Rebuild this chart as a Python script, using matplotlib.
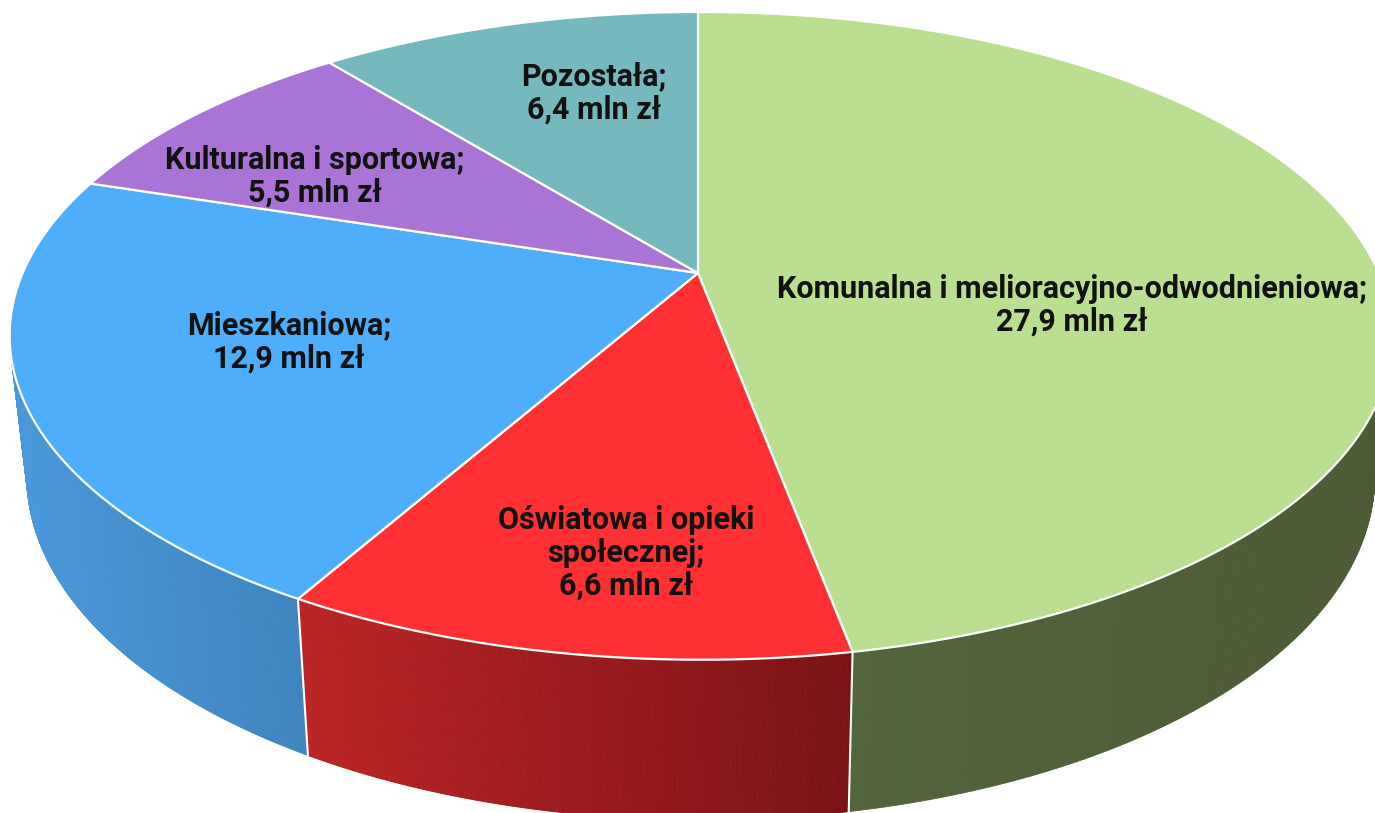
import matplotlib
matplotlib.use('Agg')
import matplotlib.pyplot as plt
from matplotlib.colors import to_rgb
import numpy as np

plt.rcParams['font.family'] = ['Roboto', 'DejaVu Sans']

categories = ['Komunalna i melioracyjno-odwodnieniowa', 'Oświatowa i opieki\nspołecznej', 'Mieszkaniowa',
              'Kulturalna i sportowa', 'Pozostała']
values = [27.9, 6.6, 12.9, 5.5, 6.4]
value_labels = ['27,9', '6,6', '12,9', '5,5', '6,4']

top_colors = ['#BADF90', '#FF3033', '#4FAEFB', '#A974D6', '#75B8BE']
wall_left = ['#55683D', '#BC2424', '#4A98DA', '#6A4585', '#467278']
wall_right = ['#4C5A36', '#7A1214', '#3F85BF', '#6A4585', '#467278']
label_xy = [(1072, 305), (626, 553), (289, 342), (315, 176), (594, 93)]

# pie apex and perspective of the disc, in image pixels
cx, cy = 698, 273
a, b, k, m = 678, 311.7, 0.194, 0.004
drop, shrink, stretch = 137, 0.975, 1.06


def top_rim(theta):
    u, v = np.sin(theta), np.cos(theta)
    w = 1 + k * v - m * u
    return cx + a * u / w, cy - b * v / w


def low_rim(theta):
    x, y = top_rim(theta)
    return cx + shrink * (x - cx), cy + stretch * (y - cy) + drop


fig = plt.figure(figsize=(13.75, 8.13), dpi=100)
ax = fig.add_axes([0, 0, 1, 1])

edges = np.cumsum([0] + values) / sum(values) * 2 * np.pi

# side walls first, the top hides whatever is at the back
for i in range(len(values)):
    t = np.linspace(edges[i], edges[i + 1], 260)
    xt, yt = top_rim(t)
    xl, yl = low_rim(t)
    c0, c1 = np.array(to_rgb(wall_left[i])), np.array(to_rgb(wall_right[i]))
    x0, x1 = xl.min(), xl.max()
    for j in range(len(t) - 1):
        f = (xl[j] - x0) / (x1 - x0)
        col = tuple(c0 + (c1 - c0) * f)
        ax.fill([xt[j], xt[j + 1], xl[j + 1], xl[j]], [yt[j], yt[j + 1], yl[j + 1], yl[j]],
                fc=col, ec=col, lw=0.6, zorder=1)

for e in edges[1:3]:
    xt, yt = top_rim(e)
    xl, yl = low_rim(e)
    ax.plot([xt, xl], [yt, yl], color='white', lw=1.5, zorder=2)

for i in range(len(values)):
    t = np.linspace(edges[i], edges[i + 1], 300)
    xt, yt = top_rim(t)
    ax.fill(np.r_[cx, xt], np.r_[cy, yt], fc=top_colors[i], ec='white', lw=1.6, joinstyle='round', zorder=3)

for name, val, (x, y) in zip(categories, value_labels, label_xy):
    ax.text(x, y, name + ';\n' + val + ' mln zł', ha='center', va='center', fontsize=22, fontweight='bold',
            color='#111111', linespacing=1.12, zorder=4)

ax.set_xlim(0, 1375)
ax.set_ylim(813, 0)
ax.axis('off')
fig.savefig('out.png', dpi=100, facecolor='white')
